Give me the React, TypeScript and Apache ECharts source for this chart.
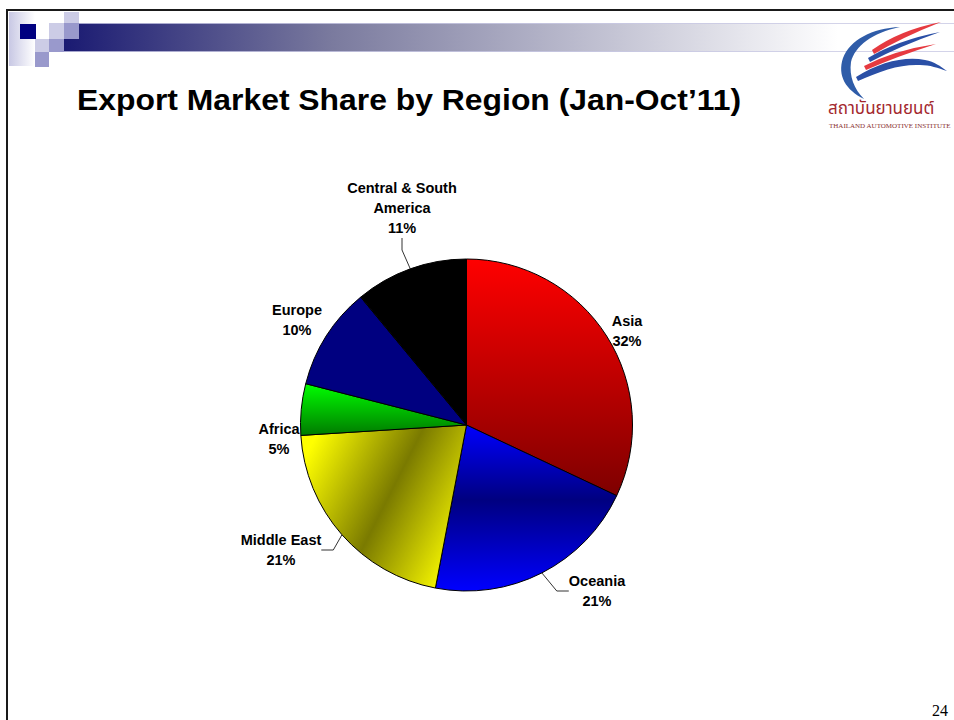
import React, { useEffect, useRef } from "react";
import * as echarts from "echarts";

// ---- data ----
const regions = ["Asia", "Oceania", "Middle East", "Africa", "Europe", "Central & South America"];
const shares = [32, 21, 21, 5, 10, 11];
const labelTexts = ["Asia", "Oceania", "Middle East", "Africa", "Europe", "Central & South\nAmerica"];

const TITLE = "Export Market Share by Region (Jan-Oct\u201911)";
const PAGE_NO = "24";
const LOGO_TH = "สถาบันยานยนต์";
const LOGO_EN = "THAILAND AUTOMOTIVE INSTITUTE";

// ---- styles ----
const lin = (x: number, y: number, x2: number, y2: number, stops: [number, string][]) => ({
  type: "linear",
  x,
  y,
  x2,
  y2,
  colorStops: stops.map(([offset, color]) => ({ offset, color })),
});

const sliceColors: any[] = [
  lin(0, 0, 0, 1, [[0, "#ff0000"], [1, "#7e0000"]]),
  lin(0, 0, 0, 1, [[0, "#0000ff"], [0.45, "#000080"], [1, "#0000ff"]]),
  lin(0, 0.25, 1, 0.75, [[0, "#ffff00"], [0.5, "#7a7a00"], [1, "#ffff00"]]),
  lin(0, 0, 0, 1, [[0, "#00ff00"], [1, "#007a00"]]),
  "#000080",
  "#000000",
];
const showLine = [false, true, true, false, false, true];
const LABEL_POS: Record<string, [number, number]> = {
  Asia: [627, 331],
  Oceania: [597, 591],
  "Middle East": [281, 550],
  Africa: [279, 439],
  Europe: [297, 320],
  "Central & South America": [402, 208],
};

let shapesRegistered = false;
function registerLogoShapes() {
  if (shapesRegistered) return;
  shapesRegistered = true;
  const shapes: Record<string, string> = {
    logoC: "M900 27 C872 28 850 40 843 58 C837 76 846 90 864 99 C854 89 849 76 851 62 C855 46 872 33 900 27 Z",
    logoR1: "M872 50 Q900 30 941 22 Q903 37 874 54 Z",
    logoB2: "M868 58 Q898 40 940 32 Q900 46 870 62 Z",
    logoR3: "M864 66 Q895 50 936 44 Q898 56 866 70 Z",
    logoB4: "M856 77 C880 62 905 56 925 60 C935 62 940 66 947 71 C938 68 930 65 920 65 C900 64 880 71 858 81 Z",
  };
  Object.keys(shapes).forEach((k) => {
    echarts.graphic.registerShape(k, (echarts.graphic as any).extendPath(shapes[k], {}));
  });
}

export default function App() {
  const ref = useRef<HTMLDivElement>(null);
  useEffect(() => {
    if (!ref.current) return;
    registerLogoShapes();
    const chart = echarts.init(ref.current, undefined, { renderer: "svg" });
    const sans = "'Liberation Sans', Arial, sans-serif";
    const lightSq = "#ccccE6";
    const midSq = "#9999cc";
    const option: any = {
      animation: false,
      backgroundColor: "#ffffff",
      textStyle: { fontFamily: sans },
      graphic: [
        // header decoration
        {
          type: "rect",
          shape: { x: 9, y: 12, width: 26, height: 54 },
          style: { fill: lin(0, 0, 1, 0, [[0, "#c8c8e4"], [1, "#ffffff"]]) as any },
          silent: true,
        },
        {
          type: "rect",
          shape: { x: 64, y: 23, width: 890, height: 29 },
          style: {
            fill: lin(0, 0, 1, 0, [[0, "#1a1a72"], [0.3, "#7a7a9e"], [0.87, "#ffffff"], [1, "#ffffff"]]) as any,
          },
          silent: true,
        },
        { type: "line", shape: { x1: 64, y1: 23.5, x2: 954, y2: 23.5 }, style: { stroke: "rgba(200,200,228,0.8)", lineWidth: 1 }, silent: true },
        { type: "line", shape: { x1: 64, y1: 51.5, x2: 954, y2: 51.5 }, style: { stroke: "rgba(200,200,228,0.8)", lineWidth: 1 }, silent: true },
        { type: "rect", shape: { x: 20, y: 24, width: 16, height: 15 }, style: { fill: "#000080" }, silent: true },
        { type: "rect", shape: { x: 64, y: 12, width: 15, height: 11 }, style: { fill: lightSq }, silent: true },
        { type: "rect", shape: { x: 49, y: 23, width: 15, height: 16 }, style: { fill: lightSq }, silent: true },
        { type: "rect", shape: { x: 35, y: 39, width: 14, height: 13 }, style: { fill: lightSq }, silent: true },
        { type: "rect", shape: { x: 64, y: 23, width: 15, height: 16 }, style: { fill: midSq }, silent: true },
        { type: "rect", shape: { x: 49, y: 39, width: 15, height: 13 }, style: { fill: midSq }, silent: true },
        { type: "rect", shape: { x: 35, y: 52, width: 14, height: 15 }, style: { fill: midSq }, silent: true },
        // frame
        { type: "line", shape: { x1: 6, y1: 10, x2: 954, y2: 10 }, style: { stroke: "#1a1a1a", lineWidth: 2 }, silent: true },
        { type: "line", shape: { x1: 7, y1: 9, x2: 7, y2: 720 }, style: { stroke: "#1a1a1a", lineWidth: 2 }, silent: true },
        // title
        {
          type: "text",
          x: 77,
          y: 100,
          scaleX: 1.063,
          style: {
            text: TITLE,
            fontFamily: sans,
            fontWeight: "bold",
            fontSize: 30,
            fill: "#000",
            align: "left",
            verticalAlign: "middle",
          },
          silent: true,
        },
        // logo
        { type: "logoC", style: { fill: "#2f5ca8" }, silent: true },
        { type: "logoR1", style: { fill: "#e63a40" }, silent: true },
        { type: "logoB2", style: { fill: "#2a4fa6" }, silent: true },
        { type: "logoR3", style: { fill: "#e63a40" }, silent: true },
        { type: "logoB4", style: { fill: "#2a4fa6" }, silent: true },
        {
          type: "text",
          x: 828,
          y: 109,
          style: {
            text: LOGO_TH,
            fontFamily: "'Noto Sans Thai', 'Noto Sans', 'DejaVu Sans', sans-serif",
            fontSize: 17,
            fill: "#a3282e",
            align: "left",
            verticalAlign: "middle",
          },
          silent: true,
        },
        {
          type: "text",
          x: 829,
          y: 126,
          style: {
            text: LOGO_EN,
            fontFamily: "'Liberation Serif', 'Times New Roman', serif",
            fontSize: 7,
            fill: "#8a3030",
            align: "left",
            verticalAlign: "middle",
          },
          silent: true,
        },
        // page number
        {
          type: "text",
          x: 940,
          y: 710,
          style: {
            text: PAGE_NO,
            fontFamily: "'Liberation Serif', 'Times New Roman', serif",
            fontSize: 16,
            fill: "#000",
            align: "center",
            verticalAlign: "middle",
          },
          silent: true,
        },
      ],
      series: [
        {
          type: "pie",
          center: [466.5, 425],
          radius: 166,
          startAngle: 90,
          clockwise: true,
          silent: true,
          itemStyle: { borderColor: "#000", borderWidth: 1 },
          label: {
            show: true,
            position: "outside",
            fontFamily: sans,
            fontWeight: "bold",
            fontSize: 14.5,
            lineHeight: 20,
            color: "#000",
            align: "center",
            formatter: (p: any) => `${labelTexts[p.dataIndex]}\n${p.value}%`,
          },
          labelLine: { show: true, length: 10, length2: 12, lineStyle: { color: "#333", width: 1 } },
          labelLayout: (params: any) => {
            const p = LABEL_POS[regions[params.dataIndex]];
            return { x: p[0], y: p[1], align: "center", verticalAlign: "middle", hideOverlap: false };
          },
          data: regions.map((name, i) => ({
            name,
            value: shares[i],
            itemStyle: { color: sliceColors[i] },
            labelLine: { show: showLine[i] },
          })),
        },
      ],
    };
    chart.setOption(option);
    return () => chart.dispose();
  }, []);
  return (
    <div
      ref={ref}
      style={{ position: "fixed", left: 0, top: 0, width: 954, height: 720, background: "#fff" }}
    />
  );
}
